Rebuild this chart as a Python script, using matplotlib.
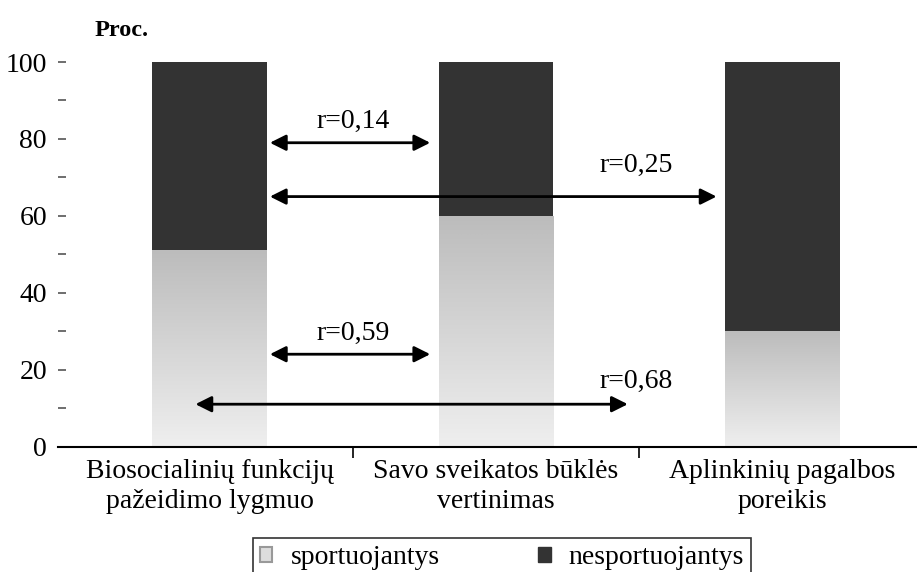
import numpy as np
import matplotlib
matplotlib.use('Agg')
import matplotlib.pyplot as plt
from matplotlib.patches import Patch
from matplotlib.colors import LinearSegmentedColormap

plt.rcParams['font.family'] = ['Liberation Serif', 'DejaVu Serif']

categories = ['Biosocialinių funkcijų\npažeidimo lygmuo',
              'Savo sveikatos būklės\nvertinimas',
              'Aplinkinių pagalbos\nporeikis']
sportuojantys = [51, 60, 30]
nesportuojantys = [49, 40, 70]

# correlation arrows: (from x, to x, y level, label, label x, label y)
arrows = [
    (0.21, 0.77, 79, 'r=0,14', 0.50, 84.5),
    (0.21, 1.77, 65, 'r=0,25', 1.49, 73.0),
    (0.21, 0.77, 24, 'r=0,59', 0.50, 29.5),
    (-0.05, 1.46, 11, 'r=0,68', 1.49, 17.0),
]

fig = plt.figure(figsize=(9.17, 5.72), dpi=100)
ax = fig.add_axes([58 / 917, 1 - 446.5 / 572, 1 - 58 / 917, 384.5 / 572])

x = np.arange(len(categories))
width = 0.4

# light bars with vertical gradient
light = ax.bar(x, sportuojantys, width, color='none', edgecolor='none')
cmap = LinearSegmentedColormap.from_list('g', ['#efefef', '#bcbcbc'])
grad = np.linspace(0, 1, 256).reshape(-1, 1)
for p in light.patches:
    x0, y0 = p.get_x(), p.get_y()
    im = ax.imshow(grad, cmap=cmap, aspect='auto', origin='lower',
                   extent=[x0, x0 + p.get_width(), y0, y0 + p.get_height()],
                   zorder=1)
    im.set_clip_path(p)

ax.bar(x, nesportuojantys, width, bottom=sportuojantys, color='#333333',
       edgecolor='none', zorder=2)

for x1, x2, yv, lab, lx, ly in arrows:
    ax.annotate('', xy=(x2, yv), xytext=(x1, yv),
                arrowprops=dict(arrowstyle='<|-|>', color='black', lw=2,
                                mutation_scale=24, shrinkA=0, shrinkB=0),
                zorder=5)
    ax.text(lx, ly, lab, ha='center', va='center', fontsize=20, zorder=6)

ax.set_xlim(-0.53, 2.47)
ax.set_ylim(0, 100)

for s in ['left', 'top', 'right']:
    ax.spines[s].set_visible(False)
ax.spines['bottom'].set_linewidth(1.5)

ax.set_xticks([0.5, 1.5])
ax.set_xticklabels([])
ax.set_xticks(x, minor=True)
ax.set_xticklabels(categories, minor=True, fontsize=20, linespacing=1.25)
ax.tick_params(axis='x', which='major', length=8, width=1.2, direction='out')
ax.tick_params(axis='x', which='minor', length=0, pad=9)

ax.set_yticks(np.arange(0, 101, 20))
ax.set_yticks(np.arange(10, 100, 20), minor=True)
ax.tick_params(axis='y', which='both', direction='in', length=6, width=1.2,
               color='#555555', labelsize=20, pad=8)

fig.text(95 / 917, 1 - 30 / 572, 'Proc.', fontsize=17.5, fontweight='bold',
         va='center', ha='left')

handles = [Patch(facecolor='#dddddd', edgecolor='#999999', lw=1.5),
           Patch(facecolor='#333333', edgecolor='#333333')]
leg = fig.legend(handles, ['sportuojantys', 'nesportuojantys'], ncol=2,
                 loc='upper center', bbox_to_anchor=(502 / 917, 1 - 538 / 572),
                 borderaxespad=0, frameon=True, fancybox=False,
                 edgecolor='black', fontsize=20, handlelength=0.45,
                 handleheight=0.45, columnspacing=3.55, borderpad=0.25,
                 handletextpad=0.65)
leg.get_frame().set_linewidth(1.2)

fig.savefig('out.png', dpi=100)
